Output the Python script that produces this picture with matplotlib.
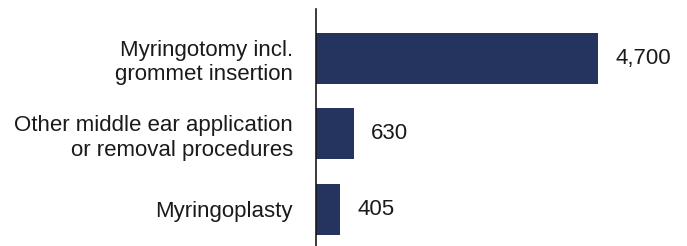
import matplotlib
matplotlib.use('Agg')
import matplotlib.pyplot as plt

plt.rcParams['font.family'] = ['Liberation Sans', 'DejaVu Sans']

categories = ['Myringotomy incl.\ngrommet insertion',
              'Other middle ear application\nor removal procedures',
              'Myringoplasty']
values = [4700, 630, 405]
value_labels = ['4,700', '630', '405']

fig = plt.figure(figsize=(6.87, 2.46), dpi=100)
ax = fig.add_axes([316 / 687, 0, 1 - 316 / 687, 237 / 246])

y = list(range(len(values)))
bars = ax.barh(y, values, height=0.68, color='#25335f')

for b, lab in zip(bars, value_labels):
    ax.annotate(lab, (b.get_width(), b.get_y() + b.get_height() / 2),
                xytext=(12.5, 0), textcoords='offset points',
                va='center', ha='left', fontsize=16, color='#1a1a1a')

ax.set_yticks(y)
ax.set_yticklabels(categories, fontsize=16, color='#1a1a1a', linespacing=1.2)
ax.tick_params(axis='y', length=0, pad=16.5)
ax.set_xticks([])
ax.set_xlim(0, 6190)
ax.set_ylim(2.49, -0.66)

for s in ['top', 'right', 'bottom']:
    ax.spines[s].set_visible(False)
ax.spines['left'].set_linewidth(1.2)
ax.spines['left'].set_color('#1a1a1a')

fig.savefig('out.png', dpi=100)
